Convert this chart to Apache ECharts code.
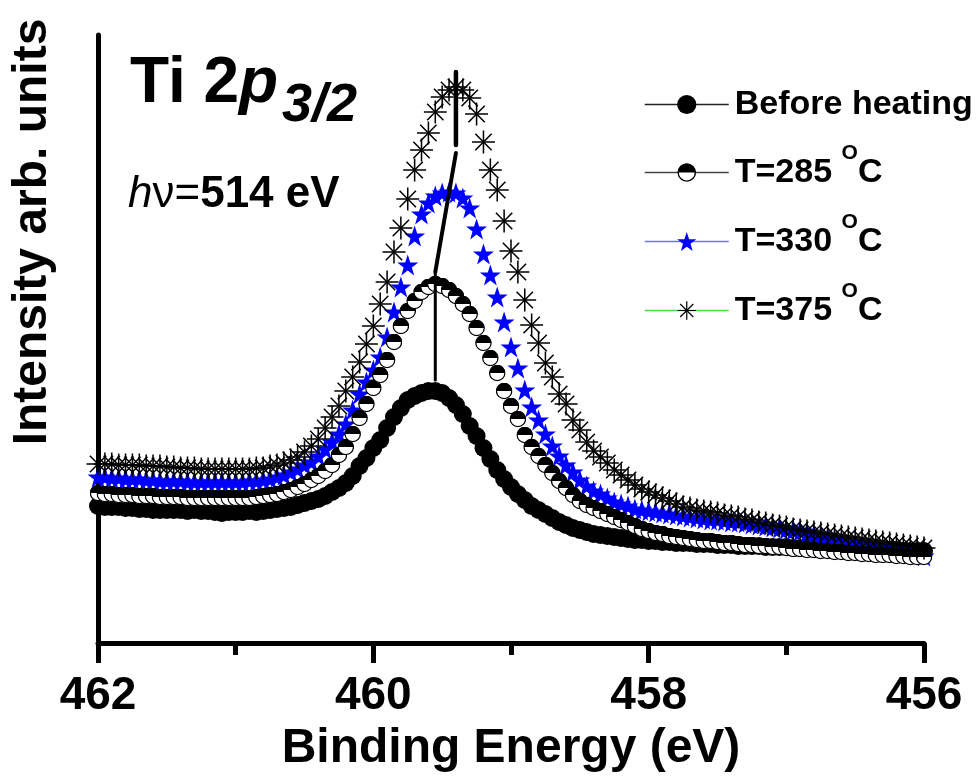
<!DOCTYPE html>
<html><head><meta charset="utf-8">
<script src="https://cdn.jsdelivr.net/npm/echarts@6/dist/echarts.min.js"></script>
<style>html,body{margin:0;padding:0;background:#fff}#c{width:978px;height:780px}</style>
</head><body><div id="c"></div>
<script>
const energy = [462,461.95,461.9,461.85,461.8,461.75,461.7,461.65,461.6,461.55,461.5,461.45,461.4,461.35,461.3,461.25,461.2,461.15,461.1,461.05,461,460.95,460.9,460.85,460.8,460.75,460.7,460.65,460.6,460.55,460.5,460.45,460.4,460.35,460.3,460.25,460.2,460.15,460.1,460.05,460,459.95,459.9,459.85,459.8,459.75,459.7,459.65,459.6,459.55,459.5,459.45,459.4,459.35,459.3,459.25,459.2,459.15,459.1,459.05,459,458.95,458.9,458.85,458.8,458.75,458.7,458.65,458.6,458.55,458.5,458.45,458.4,458.35,458.3,458.25,458.2,458.15,458.1,458.05,458,457.95,457.9,457.85,457.8,457.75,457.7,457.65,457.6,457.55,457.5,457.45,457.4,457.35,457.3,457.25,457.2,457.15,457.1,457.05,457,456.95,456.9,456.85,456.8,456.75,456.7,456.65,456.6,456.55,456.5,456.45,456.4,456.35,456.3,456.25,456.2,456.15,456.1,456.05,456];

const beforeHeating = [137,136,136,136,135,135,134,134,133,133,
 133,133,133,132,133,132,132,131,130,131,
 131,131,132,131,132,133,134,135,136,138,
 140,142,144,147,151,155,160,167,177,185,
 195,203,215,226,235,243,247,250,252,252,
 250,245,238,229,217,207,195,184,173,164,
 156,149,143,137,133,129,125,121,118,115,
 113,111,109,108,107,106,105,104,103,103,
 102,102,101,101,100,100,100,99,99,99,
 98,98,98,97,97,97,97,96,96,96,
 96,95,95,95,95,94,94,94,94,94,
 94,93,93,93,93,93,93,92,92,92,
 92];

const t285 = [150,149,149,148,148,148,147,147,147,146,
 146,146,146,145,145,145,145,145,145,145,
 145,145,145,146,147,148,149,151,153,156,
 159,163,167,172,178,188,196,209,225,239,
 255,268,283,301,317,332,342,351,356,359,
 357,353,347,339,329,315,300,285,270,252,
 237,224,208,196,187,178,170,162,155,148,
 142,138,135,132,129,126,123,120,117,114,
 112,110,109,107,106,105,104,103,102,102,
 101,100,100,99,98,98,97,97,96,96,
 95,94,94,93,93,92,92,91,91,90,
 90,89,89,88,88,88,87,87,86,86,
 86];

const t330 = [166,166,165,165,164,164,164,163,163,162,
 162,162,162,161,161,161,161,161,161,161,
 161,161,162,162,163,164,166,168,171,174,
 178,181,187,194,201,209,219,233,249,261,
 273,286,306,331,356,378,407,429,440,447,
 450,451,450,445,435,414,389,368,346,321,
 296,275,253,236,223,209,197,187,178,171,
 163,157,152,149,145,141,139,137,134,133,
 132,131,130,129,128,127,126,125,124,123,
 123,122,121,121,120,119,118,117,116,115,
 114,113,112,110,108,107,105,103,102,100,
 98,97,95,94,93,92,91,90,89,88,
 87];

const t375 = [179,179,179,178,178,178,178,177,177,177,
 176,176,175,175,175,174,174,174,174,174,
 174,174,174,175,175,177,178,180,183,186,
 191,197,204,215,226,237,252,266,281,299,
 317,339,361,391,415,444,473,493,510,531,
 546,553,556,553,545,529,501,473,453,422,
 392,371,343,318,300,280,266,249,239,223,
 213,201,192,186,180,173,168,163,158,154,
 151,148,145,142,139,136,135,133,132,131,
 130,128,127,126,124,123,121,120,118,117,
 116,114,113,112,111,110,109,108,107,106,
 105,104,103,102,101,100,99,98,97,96,
 95];

// peak-position guide lines [energy, intensity]
const guideLow = [[459.55, 263], [459.55, 370]];
const guideMid = [[459.55, 371], [459.40, 490]];
const guideHigh = [[459.40, 498], [459.40, 571]];

const seriesNames = ['Before heating', 'T=285 OC', 'T=330 OC', 'T=375 OC'];
const legendLineColors = ['#222', '#444', '#7070ff', '#44dd44'];
const xMin = 456, xMax = 462, xStep = 2;
const yMin = 0, yMax = 608;

const FF = '"Liberation Sans", Arial, sans-serif';
function svgUrl(svg) { return 'image://data:image/svg+xml;charset=utf-8,' + encodeURIComponent(svg); }
const halfCircle = svgUrl("<svg xmlns='http://www.w3.org/2000/svg' width='40' height='40' viewBox='0 0 40 40'><circle cx='20' cy='20' r='18' fill='#fff' stroke='#000' stroke-width='3'/><path d='M2 20 A18 18 0 0 1 38 20 Z' fill='#000'/></svg>");
const asterisk = svgUrl("<svg xmlns='http://www.w3.org/2000/svg' width='44' height='44' viewBox='0 0 44 44'><g stroke='#000' stroke-width='2.8'><line x1='22' y1='1' x2='22' y2='43'/><line x1='1' y1='22' x2='43' y2='22'/><line x1='7' y1='7' x2='37' y2='37'/><line x1='37' y1='7' x2='7' y2='37'/></g></svg>");
const star = 'path://M50,0 L61.8,35.1 L98.1,35.1 L68.8,56.8 L79.4,91.2 L50,70 L20.6,91.2 L31.2,56.8 L1.9,35.1 L38.2,35.1 Z';

function mk(name, vals, symbol, size, color, z) {
  return {
    name, type: 'line', data: energy.map((e, i) => [e, vals[i]]),
    symbol, symbolSize: size, showSymbol: true, showAllSymbol: true,
    itemStyle: { color: color, borderWidth: 0 },
    lineStyle: { width: 0, opacity: 0 },
    z, emphasis: { disabled: true }, silent: true
  };
}
function guide(data, w) {
  return { type: 'line', data, symbol: 'none', lineStyle: { color: '#000', width: w, cap: 'round' }, z: 10, silent: true };
}

const chart = echarts.init(document.getElementById('c'));
chart.setOption({
  animation: false,
  backgroundColor: '#fff',
  grid: { left: 98, right: 54, top: 35, bottom: 137, containLabel: false },
  xAxis: {
    type: 'value', min: xMin, max: xMax, interval: xStep, inverse: true,
    axisLine: { onZero: false, lineStyle: { color: '#000', width: 5 } },
    axisTick: { length: 20, lineStyle: { color: '#000', width: 5 } },
    minorTick: { show: true, splitNumber: 2, length: 12, lineStyle: { color: '#000', width: 5 } },
    splitLine: { show: false }, minorSplitLine: { show: false },
    axisLabel: { fontFamily: FF, fontSize: 46, fontWeight: 'bold', color: '#000', margin: 30 },
    name: 'Binding Energy (eV)', nameLocation: 'middle', nameGap: 82,
    nameTextStyle: { fontFamily: FF, fontSize: 48, fontWeight: 'bold', color: '#000' }
  },
  yAxis: {
    type: 'value', min: yMin, max: yMax, position: 'left',
    axisLine: { show: true, onZero: false, lineStyle: { color: '#000', width: 5 } },
    axisTick: { show: false }, axisLabel: { show: false }, splitLine: { show: false }
  },
  legend: {
    data: seriesNames.map((n, i) => ({ name: n, lineStyle: { color: legendLineColors[i], width: 1.5, opacity: 1 } })),
    orient: 'vertical', left: 639, top: 70,
    itemWidth: 84, itemHeight: 24, itemGap: 9, selectedMode: false,
    formatter: n => n.replace(' OC', ' {sup|O}C'),
    textStyle: {
      fontFamily: FF, fontSize: 34, fontWeight: 'bold', color: '#000', lineHeight: 59,
      padding: [0, 0, 0, 1],
      rich: { sup: { fontFamily: FF, fontSize: 21, fontWeight: 'bold', color: '#000', lineHeight: 20, verticalAlign: 'top', padding: [0, 0, 39, 0] } }
    }
  },
  graphic: [
    { type: 'text', x: 33, y: 232, rotation: Math.PI / 2, silent: true,
      style: { text: 'Intensity arb. units', font: 'bold 48px ' + FF, fill: '#000', align: 'center', verticalAlign: 'middle' } },
    { type: 'text', x: 130, y: 84, silent: true,
      style: { text: '{a|Ti 2}{b|p}', fill: '#000', verticalAlign: 'middle',
        rich: { a: { font: 'bold 64px ' + FF, fill: '#000' }, b: { font: 'italic bold 64px ' + FF, fill: '#000' } } } },
    { type: 'text', x: 282, y: 106, silent: true,
      style: { text: '3/2', font: 'italic bold 54px ' + FF, fill: '#000', verticalAlign: 'middle' } },
    { type: 'text', x: 128, y: 195, silent: true,
      style: { text: '{i|h}{r|ν=}{b|514 eV}', fill: '#000', verticalAlign: 'middle',
        rich: { i: { font: 'italic 44px ' + FF, fill: '#000' }, r: { font: '44px ' + FF, fill: '#000' }, b: { font: 'bold 44px ' + FF, fill: '#000' } } } }
  ],
  series: [
    mk(seriesNames[0], beforeHeating, 'circle', 18, '#000', 2),
    mk(seriesNames[1], t285, halfCircle, 17, '#000', 4),
    mk(seriesNames[2], t330, star, 21, '#0000ff', 3),
    mk(seriesNames[3], t375, asterisk, 24, '#000', 5),
    guide(guideLow, 3),
    guide(guideMid, 4),
    guide(guideHigh, 4.5)
  ]
});
</script>
</body></html>
